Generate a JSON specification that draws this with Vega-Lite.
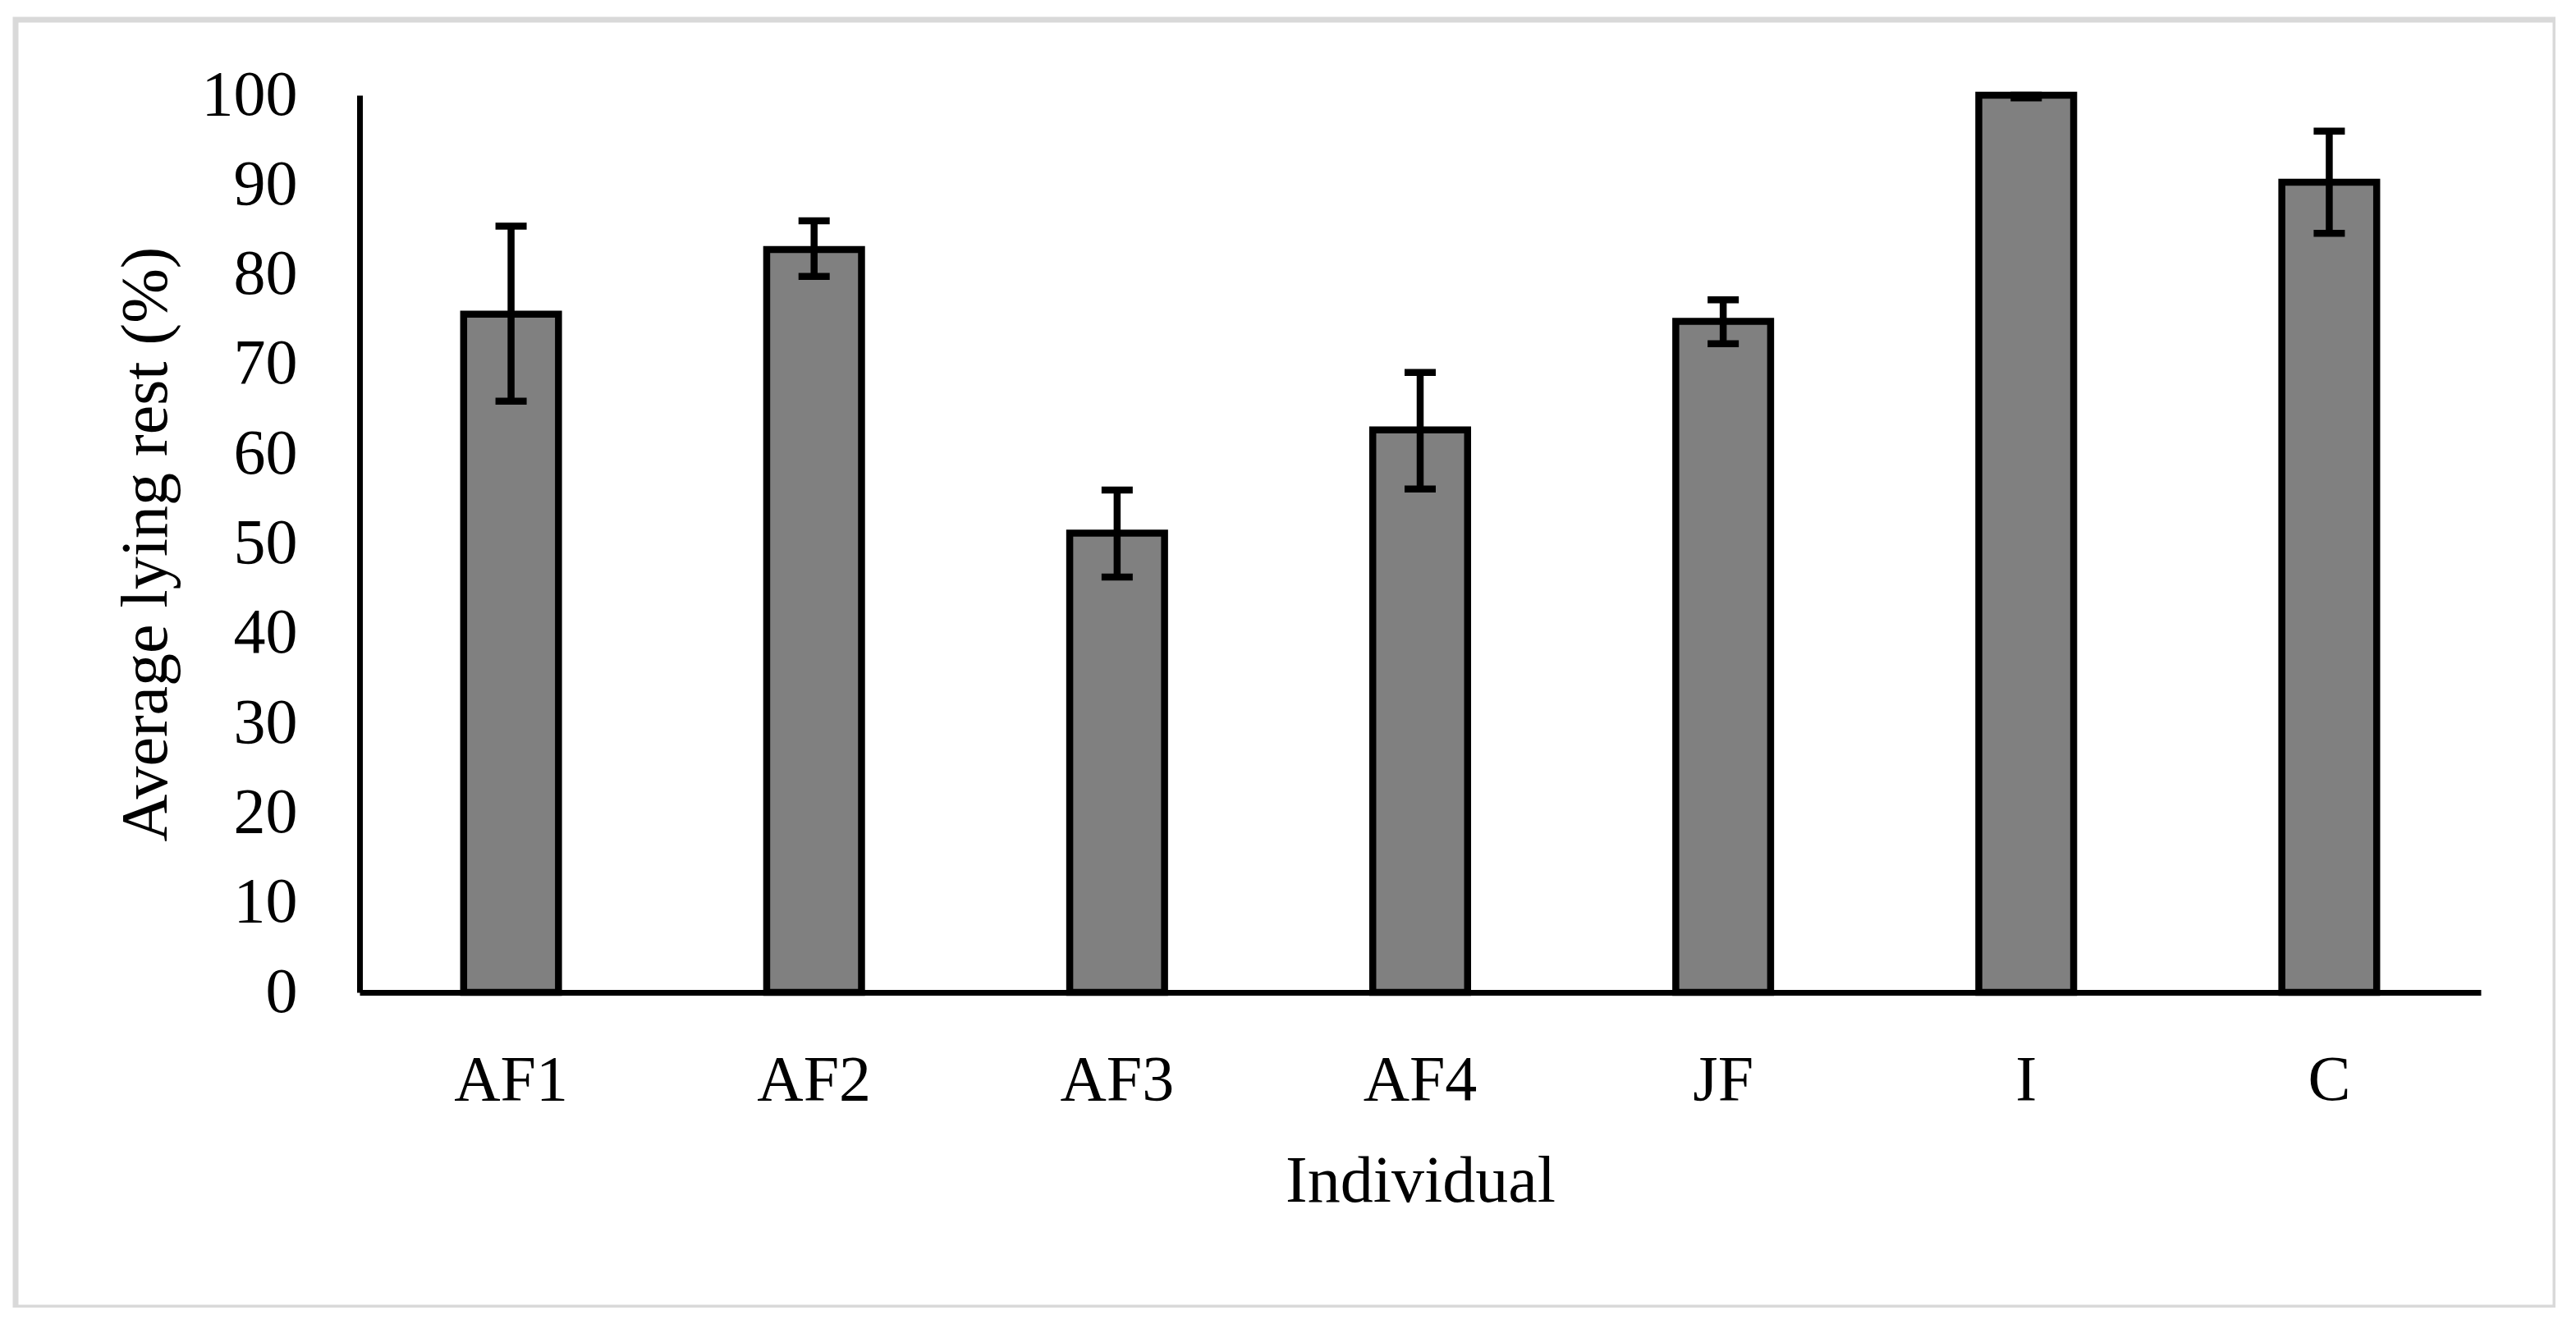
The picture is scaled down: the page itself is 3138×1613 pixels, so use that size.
{
  "$schema": "https://vega.github.io/schema/vega-lite/v6.json",
  "width": 3094,
  "height": 1569,
  "autosize": {"type": "none"},
  "padding": {"left": 19, "top": 24, "right": 0, "bottom": 0},
  "background": "white",
  "config": {
    "view": {"stroke": "#d9d9d9", "strokeWidth": 7},
    "font": "Liberation Serif"
  },
  "data": {
    "values": [
      {"Individual": "AF1", "mean": 75.6, "lo": 65.9, "hi": 85.4},
      {"Individual": "AF2", "mean": 82.8, "lo": 79.8, "hi": 86.0},
      {"Individual": "AF3", "mean": 51.2, "lo": 46.3, "hi": 56.0},
      {"Individual": "AF4", "mean": 62.7, "lo": 56.1, "hi": 69.1},
      {"Individual": "JF", "mean": 74.8, "lo": 72.3, "hi": 77.2},
      {"Individual": "I", "mean": 100, "lo": 99.7, "hi": 100},
      {"Individual": "C", "mean": 90.3, "lo": 84.6, "hi": 96.0}
    ]
  },
  "encoding": {
    "x": {
      "field": "Individual",
      "type": "nominal",
      "sort": null,
      "scale": {"range": [419, 3003], "paddingInner": 0.687, "paddingOuter": 0.3435},
      "axis": {
        "title": "Individual",
        "orient": "bottom",
        "offset": -384,
        "labelAngle": 0,
        "ticks": false,
        "tickSize": 0,
        "domainColor": "black",
        "domainWidth": 7,
        "labelFont": "Liberation Serif",
        "labelFontSize": 78,
        "labelColor": "black",
        "labelPadding": 68,
        "titleFont": "Liberation Serif",
        "titleFontSize": 80,
        "titleFontWeight": "normal",
        "titleColor": "black",
        "titlePadding": 45
      }
    }
  },
  "layer": [
    {
      "mark": {"type": "bar", "fill": "#808080", "stroke": "black", "strokeWidth": 8.5},
      "encoding": {
        "y": {
          "field": "mean",
          "type": "quantitative",
          "title": "Average lying rest (%)",
          "scale": {"domain": [0, 100], "range": [1185, 92], "nice": false, "zero": true},
          "axis": {
            "title": "Average lying rest (%)",
            "orient": "left",
            "offset": -419,
            "values": [0, 10, 20, 30, 40, 50, 60, 70, 80, 90, 100],
            "grid": false,
            "ticks": false,
            "tickSize": 0,
            "domainColor": "black",
            "domainWidth": 7,
            "labelFont": "Liberation Serif",
            "labelFontSize": 78,
            "labelColor": "black",
            "labelPadding": 76,
            "labelFlush": false,
            "labelOverlap": false,
            "titleFont": "Liberation Serif",
            "titleFontSize": 80,
            "titleFontWeight": "normal",
            "titleColor": "black",
            "titlePadding": 26
          }
        }
      }
    },
    {
      "mark": {"type": "rule", "color": "black", "strokeWidth": 8.5},
      "encoding": {
        "y": {"field": "lo", "type": "quantitative", "title": "Average lying rest (%)"},
        "y2": {"field": "hi"}
      }
    },
    {
      "mark": {"type": "tick", "color": "black", "thickness": 8.5, "size": 38, "opacity": 1},
      "encoding": {
        "y": {"field": "lo", "type": "quantitative", "title": "Average lying rest (%)"}
      }
    },
    {
      "mark": {"type": "tick", "color": "black", "thickness": 8.5, "size": 38, "opacity": 1},
      "encoding": {
        "y": {"field": "hi", "type": "quantitative", "title": "Average lying rest (%)"}
      }
    }
  ]
}
